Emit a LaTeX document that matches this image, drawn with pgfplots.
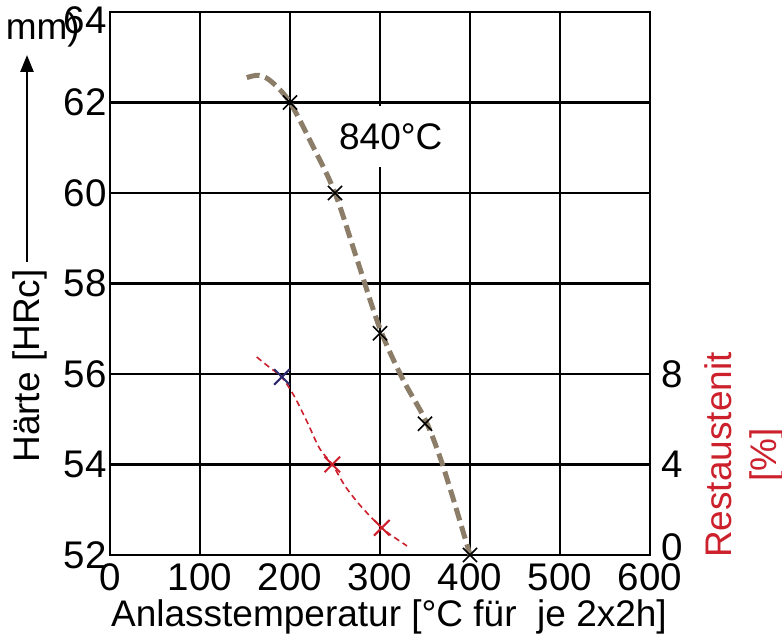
\documentclass[border=0pt]{standalone}
\usepackage{fontspec}
\setmainfont{Liberation Sans}
\usepackage{pgfplots}
\pgfplotsset{compat=1.18}
\usetikzlibrary{arrows.meta}
\definecolor{HBrown}{RGB}{139,125,104}
\definecolor{RARed}{RGB}{204,32,44}
\definecolor{RABlue}{RGB}{46,42,110}
\newcommand{\bigfont}{\fontsize{37}{45}\selectfont}
\newcommand{\tickfont}{\fontsize{38.5}{45}\selectfont}

\begin{document}
\begin{tikzpicture}[x=1pt,y=1pt]
\path[use as bounding box] (0,0) rectangle (782,639);
% Haerte (left axis, grid)
\begin{axis}[
  at={(110pt,84pt)},anchor=south west,
  scale only axis,width=540pt,height=543pt,
  xmin=0,xmax=600,ymin=52,ymax=64,
  xtick={0,100,...,600},ytick={52,54,...,62},
  extra y ticks={64},
  extra y tick style={yticklabel style={yshift=-8pt}},
  grid=major,major grid style={black,line width=2.6pt},
  axis line style={black,line width=2.8pt},
  major tick length=0pt,
  tick label style={font=\tickfont},
  xticklabel style={yshift=-5pt},
  /pgf/number format/assume math mode=true,
  clip=false
]
\addplot[HBrown,line width=5pt,dash pattern=on 13pt off 6pt,smooth,tension=0.55]
  coordinates {(152,62.55) (166,62.6) (180,62.45) (200,62) (225,61.05) (250,60)
               (275,58.5) (300,57) (325,55.9) (350,55) (366,54.2) (382,53.2) (400,52)};
\addplot[only marks,mark=x,mark size=10pt,mark options={line width=1.7pt},black]
  coordinates {(200,62) (250,60) (300,56.9) (350,54.9) (400,52)};
\node[fill=white,font=\bigfont,inner xsep=4pt,inner ysep=17pt] at (axis cs:312,61.25) {840°C};
\end{axis}
% Restaustenit (right axis)
\begin{axis}[
  at={(110pt,84pt)},anchor=south west,
  scale only axis,width=540pt,height=543pt,
  xmin=0,xmax=600,ymin=0,ymax=24,
  axis x line=none,axis y line*=right,
  y axis line style={-,black,line width=2.8pt},
  ytick={4,8},
  extra y ticks={0},
  extra y tick style={yticklabel style={yshift=8pt},major tick length=0pt},
  tick align=inside,major tick length=10pt,tick style={black,line width=2pt},
  tick label style={font=\tickfont},
  yticklabel style={xshift=8pt},
  /pgf/number format/assume math mode=true,
  clip=false
]
\addplot[RARed,line width=1.6pt,dash pattern=on 6pt off 4pt,smooth,tension=0.5]
  coordinates {(163,8.75) (177,8.3) (191,7.85) (205,7.0) (220,5.8) (233,4.7) (247,4.0)
               (262,3.0) (280,2.1) (302,1.2) (317,0.75) (330,0.4)};
\addplot[only marks,mark=x,mark size=11pt,mark options={line width=2pt},RABlue]
  coordinates {(191,7.87)};
\addplot[only marks,mark=x,mark size=11pt,mark options={line width=2pt},RARed]
  coordinates {(247,4.0) (302,1.2)};
\end{axis}
% outer labels
\node[rotate=90,font=\bigfont] at (30,273) {Härte [HRc]};
\draw[line width=2.6pt,-{Triangle[length=17pt,width=13pt]}] (27,377) -- (27,584);
\node[font=\bigfont,anchor=base east,inner sep=0pt] at (80,599) {mm)};
\node[rotate=90,font=\bigfont,text=RARed,align=center] at (744,184) {Restaustenit\\ {[\%]}};
\node[font=\bigfont,anchor=base] at (389,12) {Anlasstemperatur [°C für\ \ je 2x2h]};
\end{tikzpicture}
\end{document}
